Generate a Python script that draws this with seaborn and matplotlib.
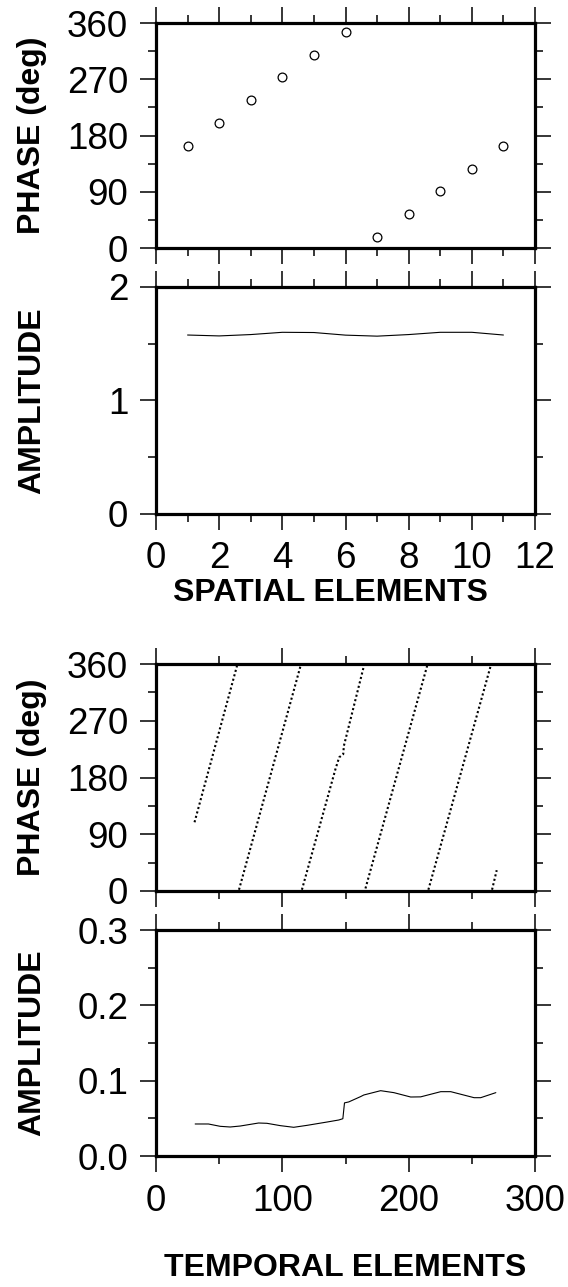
import matplotlib
matplotlib.use("Agg")
import matplotlib.pyplot as plt
from matplotlib.ticker import MultipleLocator
import seaborn as sns
import numpy as np
import pandas as pd

# ---------------- data ----------------
spatial_elements = [1, 2, 3, 4, 5, 6, 7, 8, 9, 10, 11]
spatial_phase = [164, 200, 237, 273, 309, 345, 18, 55, 92, 127, 164]
spatial_amplitude = [1.576, 1.568, 1.580, 1.600, 1.598, 1.575, 1.566, 1.580, 1.600, 1.600, 1.576]

# temporal phase: wrapped segments (vertices)
temporal_phase_t = [30.5, 64.1,
                    65.7, 114.4,
                    115.5, 142.0, 145.0, 148.2, 148.7, 164.2,
                    165.8, 214.6,
                    215.6, 264.9,
                    266.0, 269.7]
temporal_phase_deg = [109, 357,
                      2, 357,
                      2, 193, 212, 217, 230, 354,
                      4, 357,
                      2, 357,
                      2, 33]
temporal_phase_segment = [1, 1,
                          2, 2,
                          3, 3, 3, 3, 3, 3,
                          4, 4,
                          5, 5,
                          6, 6]

temporal_amp_t = [31, 41.5, 50.8, 58.7, 66.7, 81.2, 87.8, 98.4, 109, 119.6, 135.4,
                  144.7, 147.9, 149.2, 152.6, 161.9, 164.5, 177.8, 188.3, 201.6,
                  209.5, 225.4, 233.3, 251.8, 257, 269]
temporal_amp = [0.0425, 0.0425, 0.0394, 0.0385, 0.0398, 0.0438, 0.0434, 0.0403, 0.0381,
                0.0407, 0.0451, 0.0478, 0.0495, 0.0705, 0.0718, 0.0788, 0.0810, 0.0867,
                0.0841, 0.0783, 0.0785, 0.0854, 0.0854, 0.0774, 0.0774, 0.0841]

phase_ticks = [0, 90, 180, 270, 360]
spatial_amp_ticks = [0, 1, 2]
temporal_amp_ticks = [0.0, 0.1, 0.2, 0.3]
spatial_xticks = [0, 2, 4, 6, 8, 10, 12]
temporal_xticks = [0, 100, 200, 300]

# ---------------- style ----------------
sns.set_style("ticks")
plt.rcParams["font.family"] = ["Liberation Sans", "DejaVu Sans"]
plt.rcParams["text.color"] = "black"
plt.rcParams["axes.labelcolor"] = "black"
plt.rcParams["xtick.color"] = "black"
plt.rcParams["ytick.color"] = "black"
plt.rcParams["axes.edgecolor"] = "black"

W, H = 568, 1287
fig = plt.figure(figsize=(W / 100, H / 100), dpi=100)

left = 156 / W
width = (535 - 156) / W


def make_ax(top_px, bottom_px):
    return fig.add_axes([left, 1 - bottom_px / H, width, (bottom_px - top_px) / H])


ax1 = make_ax(23, 248)
ax2 = make_ax(287, 513.5)
ax3 = make_ax(664, 891)
ax4 = make_ax(930, 1156)

TICK_FS = 26.5
LABEL_FS = 23


def style_axis(ax, xlim, ylim, xmajor, xminor, ymajor, yminor, xlabels):
    ax.set_xlim(*xlim)
    ax.set_ylim(*ylim)
    ax.xaxis.set_major_locator(MultipleLocator(xmajor))
    ax.xaxis.set_minor_locator(MultipleLocator(xminor))
    ax.yaxis.set_major_locator(MultipleLocator(ymajor))
    ax.yaxis.set_minor_locator(MultipleLocator(yminor))
    ax.tick_params(which="both", direction="out", top=True, right=True,
                   bottom=True, left=True, labeltop=False, labelright=False,
                   labelbottom=xlabels, width=1.1, color="black",
                   labelcolor="black")
    ax.tick_params(which="major", length=11.5, labelsize=TICK_FS, pad=8.5)
    ax.tick_params(which="minor", length=5.5)
    for s in ax.spines.values():
        s.set_visible(True)
        s.set_linewidth(2.3)
        s.set_color("black")
    ax.set_xlabel("")
    ax.set_ylabel("")


# ---- panel 1: spatial phase ----
df1 = pd.DataFrame({"x": spatial_elements, "y": spatial_phase})
sns.scatterplot(data=df1, x="x", y="y", ax=ax1, marker="o", s=40,
                facecolor="white", edgecolor="black", linewidth=0.9, zorder=3,
                clip_on=False)
style_axis(ax1, (0, 12), (0, 360), 2, 1, 90, 45, False)

# ---- panel 2: spatial amplitude ----
df2 = pd.DataFrame({"x": spatial_elements, "y": spatial_amplitude})
sns.lineplot(data=df2, x="x", y="y", ax=ax2, color="black", linewidth=0.8)
style_axis(ax2, (0, 12), (0, 2), 2, 1, 1, 0.5, True)

# ---- panel 3: temporal phase ----
df3 = pd.DataFrame({"t": temporal_phase_t, "deg": temporal_phase_deg,
                    "seg": temporal_phase_segment})
sns.lineplot(data=df3, x="t", y="deg", units="seg", estimator=None, sort=False,
             ax=ax3, color="black", linewidth=1.5, linestyle=(0, (1, 1.2)),
             dash_capstyle="butt")
style_axis(ax3, (0, 300), (0, 360), 100, 50, 90, 45, False)

# ---- panel 4: temporal amplitude ----
df4 = pd.DataFrame({"t": temporal_amp_t, "a": temporal_amp})
sns.lineplot(data=df4, x="t", y="a", ax=ax4, color="black", linewidth=0.8)
style_axis(ax4, (0, 300), (0, 0.3), 100, 50, 0.1, 0.05, True)

for ax, ticks in [(ax1, phase_ticks), (ax2, spatial_amp_ticks),
                  (ax3, phase_ticks), (ax4, temporal_amp_ticks)]:
    ax.set_yticks(ticks)
ax1.set_xticks(spatial_xticks)
ax2.set_xticks(spatial_xticks)
ax3.set_xticks(temporal_xticks)
ax4.set_xticks(temporal_xticks)
ax4.set_yticklabels([f"{v:.1f}" for v in temporal_amp_ticks])
for ax in (ax1, ax2, ax3, ax4):
    for lab in ax.get_xticklabels() + ax.get_yticklabels():
        lab.set_color("black")

# ---- axis titles ----
ylab_x = 32 / W
for ax, txt in [(ax1, "PHASE (deg)"), (ax2, "AMPLITUDE"),
                (ax3, "PHASE (deg)"), (ax4, "AMPLITUDE")]:
    pos = ax.get_position()
    fig.text(ylab_x, pos.y0 + pos.height / 2, txt, rotation=90, ha="center",
             va="center", fontsize=LABEL_FS, fontweight="bold", color="black")

fig.text(330 / W, 1 - 593 / H, "SPATIAL ELEMENTS", ha="center", va="center",
         fontsize=LABEL_FS, fontweight="bold", color="black")
fig.text(345 / W, 1 - 1268 / H, "TEMPORAL ELEMENTS", ha="center", va="center",
         fontsize=LABEL_FS, fontweight="bold", color="black")

fig.savefig("out.png", dpi=100, facecolor="white")
